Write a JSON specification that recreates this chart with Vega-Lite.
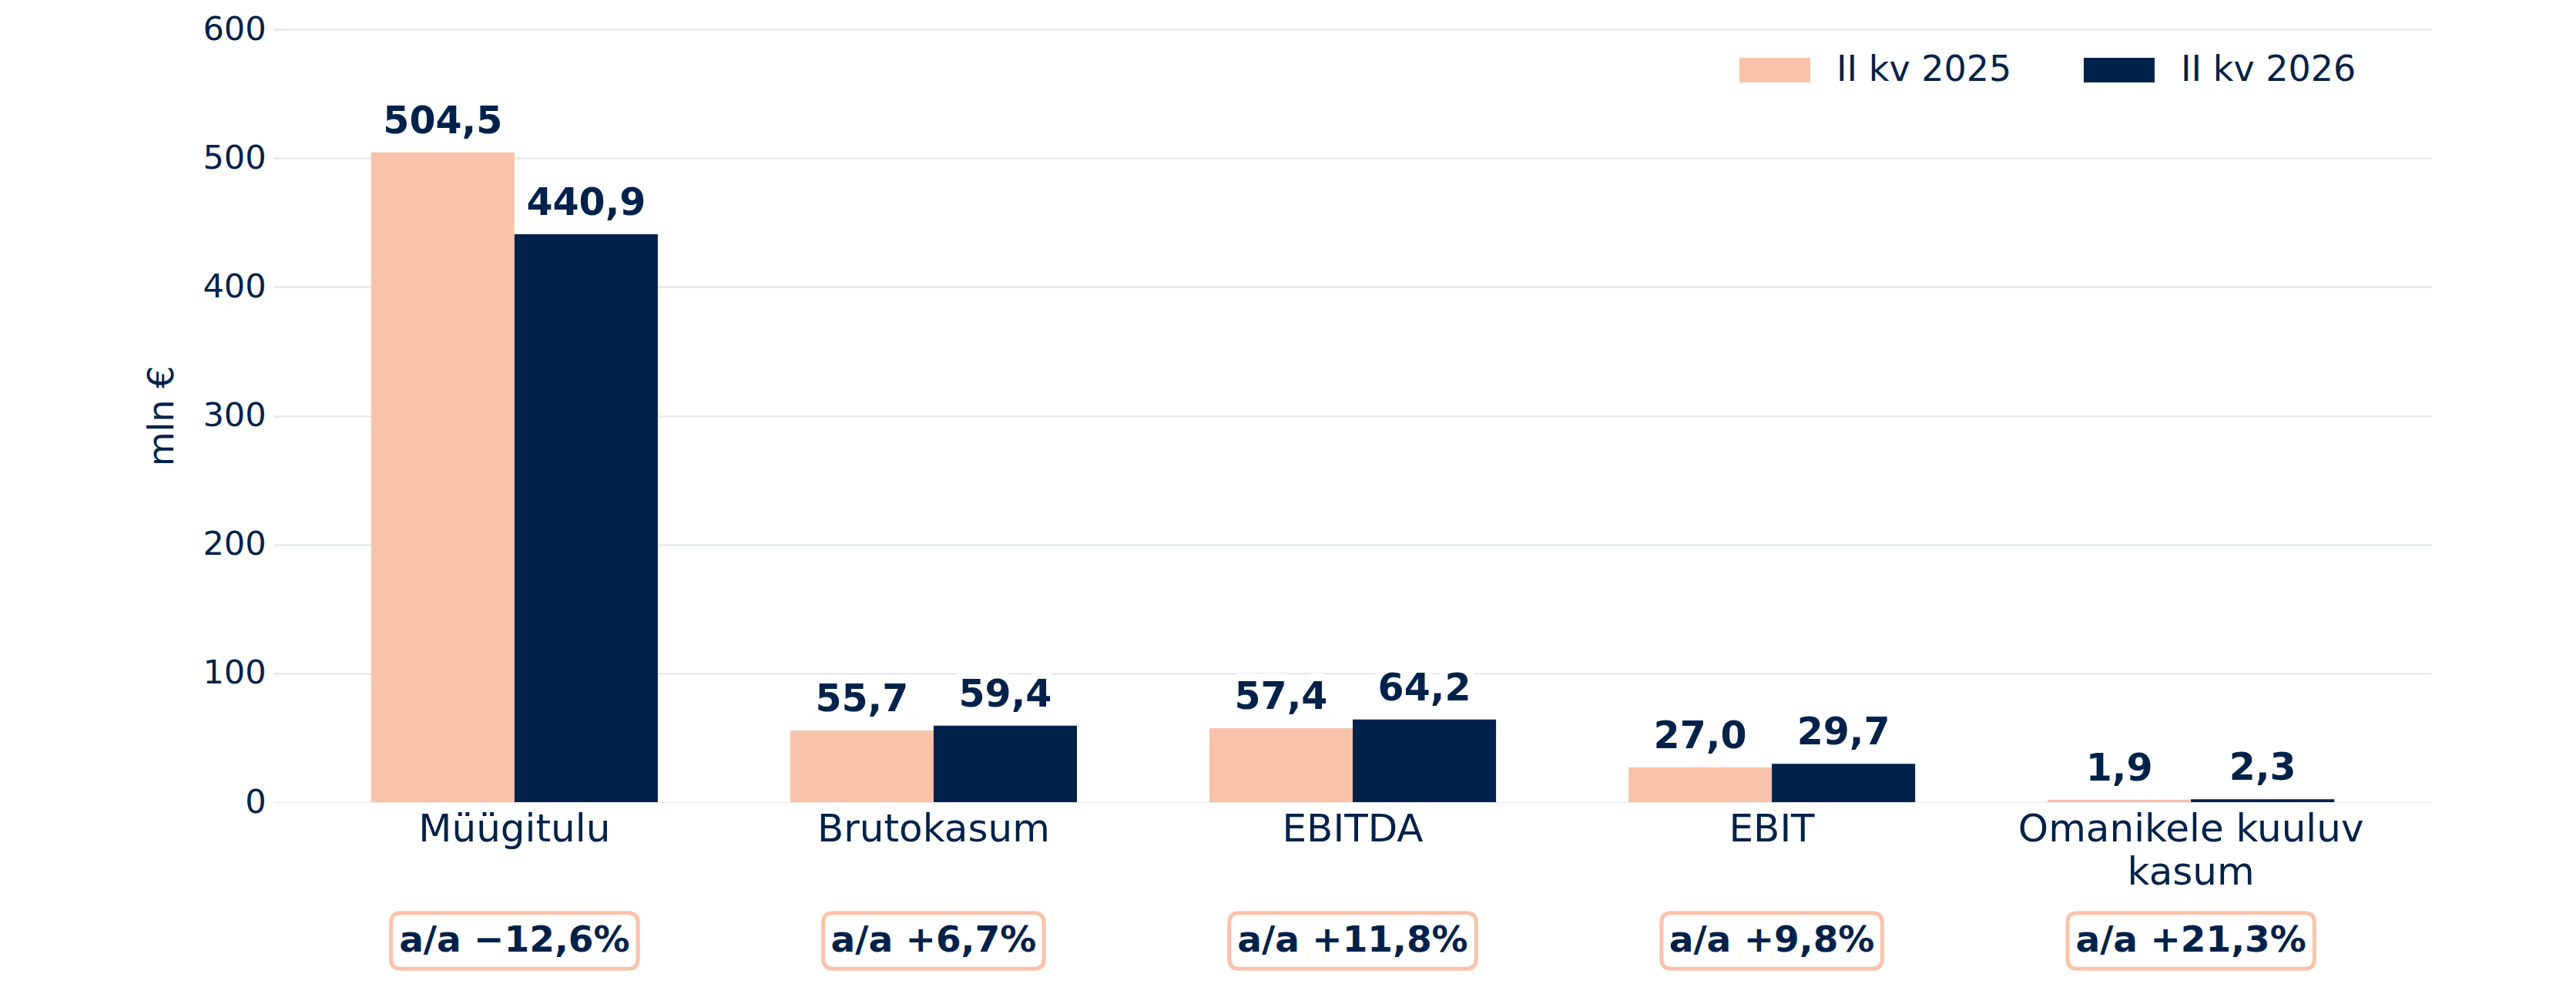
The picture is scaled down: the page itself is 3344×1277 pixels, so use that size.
{
  "$schema": "https://vega.github.io/schema/vega-lite/v6.json",
  "background": "white",
  "padding": {"left": 187, "top": 17, "right": 0, "bottom": 0},
  "spacing": 141,
  "bounds": "flush",
  "config": {
    "font": "DejaVu Sans",
    "view": {"stroke": null},
    "locale": {
      "number": {"decimal": ",", "thousands": " ", "grouping": [3], "currency": ["", " €"]}
    }
  },
  "datasets": {
    "kpi": [
      {"metric": "Müügitulu", "period": "II kv 2025", "value": 504.5},
      {"metric": "Müügitulu", "period": "II kv 2026", "value": 440.9},
      {"metric": "Brutokasum", "period": "II kv 2025", "value": 55.7},
      {"metric": "Brutokasum", "period": "II kv 2026", "value": 59.4},
      {"metric": "EBITDA", "period": "II kv 2025", "value": 57.4},
      {"metric": "EBITDA", "period": "II kv 2026", "value": 64.2},
      {"metric": "EBIT", "period": "II kv 2025", "value": 27.0},
      {"metric": "EBIT", "period": "II kv 2026", "value": 29.7},
      {"metric": "Omanikele kuuluv kasum", "period": "II kv 2025", "value": 1.9},
      {"metric": "Omanikele kuuluv kasum", "period": "II kv 2026", "value": 2.3}
    ],
    "yoy": [
      {"metric": "Müügitulu", "yoy": "a/a −12,6%"},
      {"metric": "Brutokasum", "yoy": "a/a +6,7%"},
      {"metric": "EBITDA", "yoy": "a/a +11,8%"},
      {"metric": "EBIT", "yoy": "a/a +9,8%"},
      {"metric": "Omanikele kuuluv kasum", "yoy": "a/a +21,3%"}
    ]
  },
  "vconcat": [
    {
      "width": 2802,
      "height": 1003,
      "data": {"name": "kpi"},
      "encoding": {
        "x": {
          "field": "metric",
          "type": "nominal",
          "sort": null,
          "scale": {"type": "band", "paddingInner": 0.316, "paddingOuter": 0.233},
          "axis": {
            "title": null,
            "labelAngle": 0,
            "labelFontSize": 50,
            "labelColor": "#00224a",
            "labelPadding": 10,
            "labelLimit": 0,
            "labelLineHeight": 56,
            "labelExpr": "datum.label == 'Omanikele kuuluv kasum' ? ['Omanikele kuuluv', 'kasum'] : datum.label",
            "ticks": false,
            "domain": false
          }
        },
        "xOffset": {"field": "period", "type": "nominal", "sort": null},
        "y": {
          "field": "value",
          "type": "quantitative",
          "scale": {"domain": [0, 600]},
          "axis": {
            "title": "mln €",
            "titleFontSize": 46,
            "titleFontWeight": "normal",
            "titleColor": "#00224a",
            "titlePadding": 28,
            "values": [0, 100, 200, 300, 400, 500, 600],
            "labelFontSize": 43,
            "labelColor": "#00224a",
            "labelPadding": 10,
            "ticks": false,
            "domain": false,
            "grid": true,
            "gridColor": {"condition": {"test": "datum.value === 0", "value": "#ececee"}, "value": "#e5e8ec"},
            "gridWidth": {"condition": {"test": "datum.value === 0", "value": 1.5}, "value": 2.5}
          }
        }
      },
      "layer": [
        {
          "mark": {"type": "bar"},
          "encoding": {
            "color": {
              "field": "period",
              "type": "nominal",
              "sort": null,
              "scale": {"range": ["#f9c3aa", "#00224a"]},
              "legend": {
                "title": null,
                "orient": "none",
                "direction": "horizontal",
                "legendX": 1903,
                "legendY": 7,
                "symbolType": "M-1,-0.348H1V0.348H-1Z",
                "symbolSize": 8464,
                "symbolStrokeWidth": 0,
                "labelFontSize": 46,
                "labelColor": "#00224a",
                "labelOffset": 34,
                "labelLimit": 0,
                "columnPadding": 93
              }
            }
          }
        },
        {
          "mark": {
            "type": "text",
            "dy": -25,
            "baseline": "alphabetic",
            "fontSize": 49,
            "fontWeight": "bold",
            "color": "white",
            "stroke": "white",
            "strokeWidth": 20,
            "strokeJoin": "round"
          },
          "encoding": {
            "text": {"field": "value", "type": "quantitative", "format": ".1f"}
          }
        },
        {
          "mark": {
            "type": "text",
            "dy": -25,
            "baseline": "alphabetic",
            "fontSize": 49,
            "fontWeight": "bold",
            "color": "#00224a"
          },
          "encoding": {
            "text": {"field": "value", "type": "quantitative", "format": ".1f"}
          }
        }
      ]
    },
    {
      "width": 2802,
      "height": 78,
      "data": {"name": "yoy"},
      "encoding": {
        "x": {
          "field": "metric",
          "type": "nominal",
          "sort": null,
          "scale": {"type": "band", "paddingInner": 0.316, "paddingOuter": 0.233},
          "axis": null
        }
      },
      "layer": [
        {
          "mark": {
            "type": "point",
            "filled": true,
            "fill": "white",
            "stroke": "#f9c3aa",
            "strokeWidth": 5,
            "opacity": 1
          },
          "encoding": {
            "shape": {
              "condition": {
                "test": "length(datum.yoy) > 9",
                "value": "M-0.92,-0.226H0.92Q1,-0.226 1,-0.146V0.146Q1,0.226 0.92,0.226H-0.92Q-1,0.226 -1,0.146V-0.146Q-1,-0.226 -0.92,-0.226Z"
              },
              "value": "M-0.91,-0.253H0.91Q1,-0.253 1,-0.163V0.163Q1,0.253 0.91,0.253H-0.91Q-1,0.253 -1,0.163V-0.163Q-1,-0.253 -0.91,-0.253Z"
            },
            "size": {
              "condition": {"test": "length(datum.yoy) > 9", "value": 102720},
              "value": 82082
            }
          }
        },
        {
          "mark": {
            "type": "text",
            "baseline": "middle",
            "fontSize": 47,
            "fontWeight": "bold",
            "color": "#00224a"
          },
          "encoding": {
            "text": {"field": "yoy", "type": "nominal"}
          }
        }
      ]
    }
  ]
}
